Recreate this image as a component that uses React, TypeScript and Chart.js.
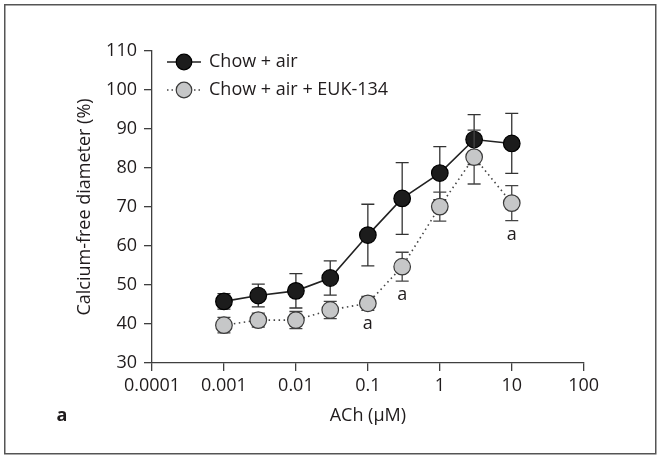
import React, { useEffect, useRef } from "react";
import { Chart, registerables } from "chart.js";

Chart.register(...registerables);

// ---- data ----
const concentrations = [0.001, 0.003, 0.01, 0.03, 0.1, 0.3, 1, 3, 10];
const chowAirMean = [45.8, 47.3, 48.5, 51.8, 62.8, 72.2, 78.7, 87.3, 86.3];
const chowAirSem = [2.0, 2.9, 4.4, 4.4, 7.9, 9.2, 6.8, 6.4, 7.7];
const eukMean = [39.7, 41.0, 41.0, 43.6, 45.3, 54.7, 70.1, 82.8, 71.0];
const eukSem = [2.0, 1.8, 2.2, 2.2, 1.8, 3.7, 3.7, 6.9, 4.5];
const eukSig = ["", "", "", "", "a", "a", "", "", "a"];
const seriesLabels = ["Chow + air", "Chow + air + EUK-134"];
const xTickValues = [0.0001, 0.001, 0.01, 0.1, 1, 10, 100];
const xTickLabels = ["0.0001", "0.001", "0.01", "0.1", "1", "10", "100"];
const yTickValues = [30, 40, 50, 60, 70, 80, 90, 100, 110];
const xTitle = "ACh (\u03bcM)";
const yTitle = "Calcium-free diameter (%)";
const panelLabel = "a";

const FONT = "'Open Sans', 'Noto Sans', sans-serif";
const FS = 18;
const TEXT = "#1f1b1c";
const AXIS = "#3f3f3f";

const errorBarPlugin = {
  id: "errorBars",
  beforeDatasetDraw(chart: any, args: any) {
    const ds = chart.data.datasets[args.index];
    const errs: number[] = ds.errors;
    if (!errs) return;
    const ctx = chart.ctx;
    const y = chart.scales.y;
    ctx.save();
    ctx.strokeStyle = ds.errorColor;
    ctx.lineWidth = 1.3;
    args.meta.data.forEach((pt: any, i: number) => {
      const v = ds.data[i].y;
      const e = errs[i];
      const px = pt.x;
      const top = y.getPixelForValue(v + e);
      const bot = y.getPixelForValue(v - e);
      ctx.beginPath();
      ctx.moveTo(px, top);
      ctx.lineTo(px, bot);
      ctx.moveTo(px - 6.5, top);
      ctx.lineTo(px + 6.5, top);
      ctx.moveTo(px - 6.5, bot);
      ctx.lineTo(px + 6.5, bot);
      ctx.stroke();
    });
    ctx.restore();
  },
};

const annotationPlugin = {
  id: "annotations",
  afterDatasetsDraw(chart: any) {
    const ctx = chart.ctx;
    const x = chart.scales.x;
    const y = chart.scales.y;
    ctx.save();
    ctx.fillStyle = TEXT;
    ctx.font = `${FS}px ${FONT}`;
    ctx.textAlign = "center";
    ctx.textBaseline = "middle";
    eukSig.forEach((s, i) => {
      if (!s) return;
      const px = x.getPixelForValue(concentrations[i]);
      const py = y.getPixelForValue(eukMean[i] - eukSem[i]) + 14;
      ctx.fillText(s, px, py);
    });
    ctx.restore();
  },
  afterDraw(chart: any) {
    const ctx = chart.ctx;
    ctx.save();
    // frame
    ctx.strokeStyle = "#555";
    ctx.lineWidth = 1.5;
    ctx.strokeRect(4.75, 4.75, 651, 449);
    // panel label
    ctx.fillStyle = TEXT;
    ctx.font = `bold ${FS}px ${FONT}`;
    ctx.textAlign = "center";
    ctx.textBaseline = "middle";
    ctx.fillText(panelLabel, 62, 416);
    // legend
    const rows = [
      { y: 62, fill: "#1c1c1c", stroke: "#000", dash: [] as number[], lc: "#222" },
      { y: 90, fill: "#c6c7c8", stroke: "#3a3a3a", dash: [1.5, 3], lc: "#444" },
    ];
    rows.forEach((r, i) => {
      ctx.strokeStyle = r.lc;
      ctx.lineWidth = 1.5;
      ctx.setLineDash(r.dash);
      ctx.beginPath();
      ctx.moveTo(167, r.y);
      ctx.lineTo(201, r.y);
      ctx.stroke();
      ctx.setLineDash([]);
      ctx.beginPath();
      ctx.arc(184, r.y, 7.8, 0, Math.PI * 2);
      ctx.fillStyle = r.fill;
      ctx.fill();
      ctx.lineWidth = 1.2;
      ctx.strokeStyle = r.stroke;
      ctx.stroke();
      ctx.fillStyle = TEXT;
      ctx.font = `${FS}px ${FONT}`;
      ctx.textAlign = "left";
      ctx.textBaseline = "middle";
      ctx.fillText(seriesLabels[i], 209, r.y);
    });
    ctx.restore();
  },
};

export default function App() {
  const ref = useRef<HTMLCanvasElement>(null);
  useEffect(() => {
    if (!ref.current) return;
    Chart.defaults.font.family = FONT;
    const chart = new Chart(ref.current, {
      type: "line",
      data: {
        datasets: [
          {
            label: seriesLabels[0],
            data: concentrations.map((c, i) => ({ x: c, y: chowAirMean[i] })),
            borderColor: "#222",
            borderWidth: 1.6,
            pointRadius: 8.3,
            pointBackgroundColor: "#1c1c1c",
            pointBorderColor: "#000",
            pointBorderWidth: 1.2,
            order: 1,
            errors: chowAirSem,
            errorColor: "#333",
          } as any,
          {
            label: seriesLabels[1],
            data: concentrations.map((c, i) => ({ x: c, y: eukMean[i] })),
            borderColor: "#444",
            borderWidth: 1.6,
            borderDash: [1.5, 3.5],
            pointRadius: 8.3,
            pointBackgroundColor: "#c6c7c8",
            pointBorderColor: "#3a3a3a",
            pointBorderWidth: 1.2,
            order: 0,
            errors: eukSem,
            errorColor: "#444",
          } as any,
        ],
      },
      options: {
        responsive: false,
        animation: false,
        layout: { padding: { left: 70, right: 77.3, top: 51, bottom: 26 } },
        plugins: { legend: { display: false }, tooltip: { enabled: false } },
        scales: {
          x: {
            type: "logarithmic",
            min: 0.0001,
            max: 100,
            afterBuildTicks: (scale: any) => {
              scale.ticks = xTickValues.map((v) => ({ value: v }));
            },
            afterFit: (scale: any) => {
              scale.height = 70;
            },
            ticks: {
              autoSkip: false,
              maxRotation: 0,
              padding: 4.5,
              color: TEXT,
              font: { size: FS, lineHeight: 1.2 },
              callback: (value: any) => {
                const idx = xTickValues.findIndex(
                  (t) => Math.abs(Math.log10(t) - Math.log10(Number(value))) < 1e-6
                );
                return idx >= 0 ? xTickLabels[idx] : "";
              },
            },
            grid: {
              drawOnChartArea: false,
              drawTicks: true,
              tickLength: 8,
              color: AXIS,
              lineWidth: 1.3,
            },
            border: { display: true, color: AXIS, width: 1.3 },
            title: {
              display: true,
              text: xTitle,
              color: TEXT,
              font: { size: FS, lineHeight: 1.2 },
              padding: { top: 0, bottom: 6 },
            },
          },
          y: {
            type: "linear",
            min: 30,
            max: 110,
            afterBuildTicks: (scale: any) => {
              scale.ticks = yTickValues.map((v) => ({ value: v }));
            },
            afterFit: (scale: any) => {
              scale.width = 82;
            },
            ticks: {
              padding: 7,
              color: TEXT,
              font: { size: FS, lineHeight: 1.2 },
            },
            grid: {
              drawOnChartArea: false,
              drawTicks: true,
              tickLength: 8,
              color: AXIS,
              lineWidth: 1.3,
            },
            border: { display: true, color: AXIS, width: 1.3 },
            title: {
              display: true,
              text: yTitle,
              color: TEXT,
              font: { size: FS, lineHeight: 1.2 },
              padding: { top: 4, bottom: 0 },
            },
          },
        },
      },
      plugins: [errorBarPlugin, annotationPlugin],
    });
    return () => chart.destroy();
  }, []);
  return (
    <div style={{ position: "fixed", left: 0, top: 0, width: 661, height: 459, background: "#fff" }}>
      <canvas ref={ref} width={661} height={459} />
    </div>
  );
}
